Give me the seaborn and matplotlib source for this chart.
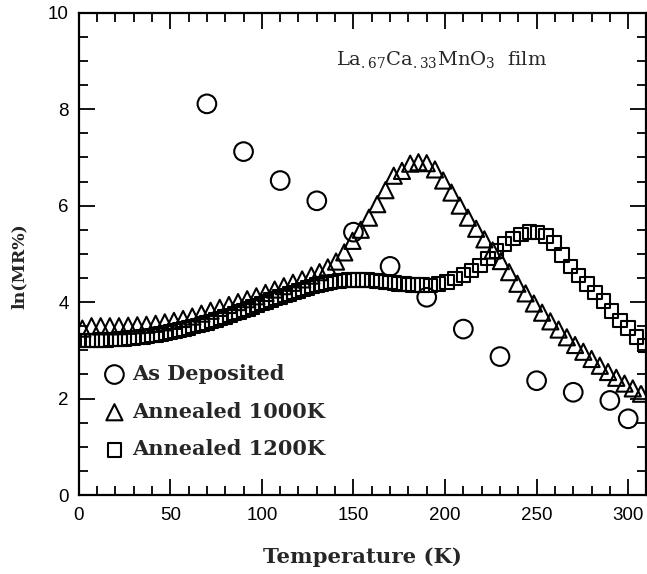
import matplotlib
matplotlib.use("Agg")
import matplotlib.pyplot as plt
from matplotlib.ticker import MultipleLocator
from matplotlib.font_manager import FontProperties
import seaborn as sns

# As-deposited film
circ_T = [70, 90, 110, 130, 150, 170, 190, 210, 230, 250, 270, 290, 300]
circ_v = [8.11, 7.12, 6.52, 6.10, 5.45, 4.74, 4.10, 3.44, 2.87, 2.37, 2.13, 1.96, 1.58]

# Film annealed at 1000 K
tri_T = [2, 7, 12, 17, 22, 27, 32, 37, 42, 47, 52, 57, 62, 67, 72, 77, 82, 87,
         92, 97, 102, 107, 112, 117, 122, 127, 131.5, 136, 140.5, 145, 149.5,
         154, 158.5, 163, 167.5, 172, 176.5, 181, 185.5, 190, 194.5, 199,
         203.5, 208, 212.5, 217, 221.5, 226, 230.5, 235, 239.5, 244, 248.5,
         253, 257.5, 262, 266.5, 271, 275.5, 280, 284.5, 289, 293.5, 298,
         302.5, 307]
tri_v = [3.45, 3.50, 3.50, 3.50, 3.50, 3.51, 3.52, 3.53, 3.55, 3.58, 3.61,
         3.65, 3.70, 3.76, 3.82, 3.88, 3.94, 4.00, 4.06, 4.12, 4.19, 4.26,
         4.33, 4.40, 4.47, 4.55, 4.62, 4.72, 4.84, 5.03, 5.27, 5.50, 5.75,
         6.03, 6.32, 6.62, 6.72, 6.87, 6.90, 6.88, 6.75, 6.52, 6.27, 6.00,
         5.75, 5.52, 5.30, 5.07, 4.85, 4.62, 4.38, 4.18, 3.97, 3.78, 3.60,
         3.43, 3.27, 3.11, 2.97, 2.82, 2.68, 2.55, 2.43, 2.31, 2.21, 2.10]

# Film annealed at 1200 K
sq_T = [0, 2.5, 5, 7.5, 10, 12.5, 15, 17.5, 20, 22.5, 25, 27.5, 30, 32.5, 35,
        37.5, 40, 42.5, 45, 47.5, 50, 52.5, 55, 57.5, 60, 62.5, 65, 67.5, 70,
        72.5, 75, 77.5, 80, 82.5, 85, 87.5, 90, 92.5, 95, 97.5, 100, 102.5,
        105, 107.5, 110, 112.5, 115, 117.5, 120, 122.5, 125, 127.5, 130,
        132.5, 135, 137.5, 140, 142.5, 145, 147.5, 150, 152.5, 155, 157.5,
        160, 162.5, 165, 167.5, 170, 172.5, 175, 177.5, 180, 182.5, 185,
        187.5, 192, 196.5, 201, 205.5, 210, 214.5, 219, 223.5, 228, 232.5,
        237, 241.5, 246, 250.5, 255, 259.5, 264, 268.5, 273, 277.5, 282,
        286.5, 291, 295.5, 300, 304.5, 309]
sq_v = [3.20, 3.20, 3.20, 3.20, 3.20, 3.21, 3.21, 3.22, 3.22, 3.23,
        3.24, 3.25, 3.26, 3.27, 3.28, 3.29, 3.31, 3.32, 3.34, 3.36,
        3.38, 3.40, 3.42, 3.44, 3.46, 3.49, 3.51, 3.54, 3.57, 3.60,
        3.63, 3.66, 3.69, 3.72, 3.76, 3.79, 3.83, 3.86, 3.90, 3.93,
        3.97, 4.00, 4.04, 4.07, 4.11, 4.14, 4.17, 4.20, 4.23, 4.26,
        4.29, 4.32, 4.35, 4.37, 4.39, 4.41, 4.43, 4.44, 4.45, 4.46,
        4.46, 4.46, 4.46, 4.46, 4.45, 4.44, 4.43, 4.42, 4.41, 4.40,
        4.38, 4.37, 4.36, 4.35, 4.35, 4.35,
        4.34, 4.37, 4.42, 4.49, 4.56, 4.65, 4.76, 4.90, 5.06, 5.20,
        5.32, 5.40, 5.45, 5.44, 5.37, 5.22, 4.98, 4.74, 4.55, 4.38,
        4.20, 4.02, 3.82, 3.62, 3.46, 3.28, 3.10]

labels = ["As Deposited", "Annealed 1000K", "Annealed 1200K"]

sns.set_style("ticks")
plt.rcParams["font.family"] = ["Liberation Sans", "DejaVu Sans"]
plt.rcParams["mathtext.fontset"] = "dejavuserif"

fig = plt.figure(figsize=(6.47, 5.74), dpi=100)
ax = fig.add_axes([78.7 / 647, 1 - 495 / 574, (646.5 - 78.7) / 647, (495 - 12.7) / 574])

common = dict(facecolor="none", edgecolor="black", linewidth=1.5, ax=ax, legend=False)
sns.scatterplot(x=circ_T, y=circ_v, marker="o", s=180, label=labels[0], **common)
sns.scatterplot(x=tri_T, y=tri_v, marker="^", s=135, label=labels[1], **common)
sns.scatterplot(x=sq_T, y=sq_v, marker="s", s=95, label=labels[2], **common)

ax.set_xlim(0, 310)
ax.set_ylim(0, 10)
ax.xaxis.set_major_locator(MultipleLocator(50))
ax.xaxis.set_minor_locator(MultipleLocator(10))
ax.yaxis.set_major_locator(MultipleLocator(2))
ax.yaxis.set_minor_locator(MultipleLocator(0.5))
ax.tick_params(which="both", direction="in", top=True, right=True,
               width=1.3, color="black", labelsize=13.5, labelcolor="black")
ax.tick_params(which="major", length=11.5)
ax.tick_params(which="minor", length=6.3)
ax.tick_params(axis="x", which="major", pad=9)
ax.tick_params(axis="y", which="major", pad=7)
for sp in ax.spines.values():
    sp.set_linewidth(1.6)
    sp.set_color("black")
    sp.set_visible(True)

ax.set_xlabel("Temperature (K)", family="DejaVu Serif", weight="bold",
              fontsize=15.3, labelpad=16)
ax.set_ylabel("ln(MR%)", family="DejaVu Serif", weight="bold", fontsize=12.5)
ax.yaxis.set_label_coords(-0.09, 0.475)

ax.text(140.5, 9.02, r"La$_{.67}$Ca$_{.33}$MnO$_3$  film", family="DejaVu Serif",
        fontsize=14, va="center", ha="left")

handles = ax.collections[:3]
ax.legend(handles, labels, loc="upper left",
          bbox_to_anchor=(103.5 / 647, 1 - 364 / 574),
          bbox_transform=fig.transFigure, frameon=False, borderpad=0,
          borderaxespad=0, handlelength=1.05, handletextpad=0.3,
          labelspacing=0.85, scatterpoints=1,
          prop=FontProperties(family="DejaVu Serif", weight="bold", size=15))

fig.savefig("out.png", dpi=100)
